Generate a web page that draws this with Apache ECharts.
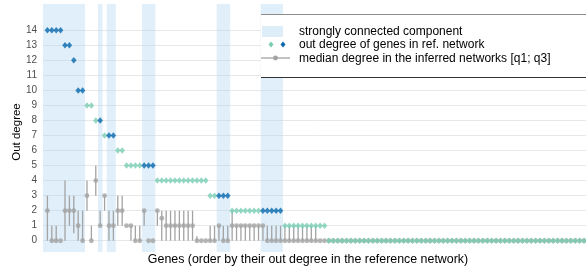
<!DOCTYPE html>
<html>
<head>
<meta charset="utf-8">
<script src="https://cdn.jsdelivr.net/npm/echarts@6/dist/echarts.min.js"></script>
<style>
  html, body { margin: 0; padding: 0; background: #fff; }
  #chart { width: 586px; height: 267px; }
</style>
</head>
<body>
<div id="chart"></div>
<script>
// out degree of each gene in the reference network (genes sorted by it)
const outDegree = [
  14, 14, 14, 14, 13, 13, 12, 10, 10, 9, 9, 8, 8, 7, 7, 7, 6, 6,
  5, 5, 5, 5, 5, 5, 5,
  4, 4, 4, 4, 4, 4, 4, 4, 4, 4, 4, 4,
  3, 3, 3, 3, 3,
  2, 2, 2, 2, 2, 2, 2, 2, 2, 2, 2, 2,
  1, 1, 1, 1, 1, 1, 1, 1, 1, 1,
  0, 0, 0, 0, 0, 0, 0, 0, 0, 0, 0, 0, 0, 0, 0, 0, 0, 0, 0, 0,
  0, 0, 0, 0, 0, 0, 0, 0, 0, 0, 0, 0, 0, 0, 0, 0, 0, 0, 0, 0,
  0, 0, 0, 0, 0, 0, 0, 0, 0, 0, 0, 0, 0, 0, 0, 0, 0, 0, 0
];
// strongly connected components: [first gene, last gene]
const sccGroups = [[0, 8], [12, 12], [14, 15], [22, 24], [39, 41], [49, 53]];
// median / quartiles of the degree in the inferred networks
const medianDeg = [
  2, 0, 0, 0, 2, 2, 2, 1, 0, 3, 0, 4, 1, 3, 1, 1, 2, 2,
  1, 1, 0, 0, 2, 0, 0,
  2, 1.5, 1, 1, 1, 1, 1, 1, 1, 0, 0, 0,
  0, 0, 1, 0, 0,
  1, 1, 1, 1, 1, 1, 1, 1, 0, 0, 0, 0,
  0, 0, 0, 0, 0, 0, 0, 0, 0, 0,
  0, 0, 0, 0, 0, 0, 0, 0, 0, 0, 0, 0, 0, 0, 0, 0, 0, 0, 0, 0,
  0, 0, 0, 0, 0, 0, 0, 0, 0, 0, 0, 0, 0, 0, 0, 0, 0, 0, 0, 0,
  0, 0, 0, 0, 0, 0, 0, 0, 0, 0, 0, 0, 0, 0, 0, 0, 0, 0, 0
];
const q1Deg = [
  0, 0, 0, 0, 0, 1, 0.5, 0, 0, 2, 0, 3, 1, 2, 0, 0, 1, 1,
  1, 0, 0, 0, 1, 0, 0,
  1, 0, 0, 0, 0, 0, 0, 0, 0, 0, 0, 0,
  0, 0, 0, 0, 0,
  0, 0, 0, 0, 0, 0, 0, 0, 0, 0, 0, 0,
  0, 0, 0, 0, 0, 0, 0, 0, 0, 0,
  0, 0, 0, 0, 0, 0, 0, 0, 0, 0, 0, 0, 0, 0, 0, 0, 0, 0, 0, 0,
  0, 0, 0, 0, 0, 0, 0, 0, 0, 0, 0, 0, 0, 0, 0, 0, 0, 0, 0, 0,
  0, 0, 0, 0, 0, 0, 0, 0, 0, 0, 0, 0, 0, 0, 0, 0, 0, 0, 0
];
const q3Deg = [
  3, 1, 1, 0, 4, 3, 3, 2, 2, 4, 1, 5, 2, 3, 2, 2, 3, 3,
  1, 1, 1, 1, 2, 0, 0,
  2, 2, 2, 2, 2, 2, 2, 2, 2, 0.3, 0, 0,
  1, 1, 1, 1, 1,
  2, 1, 1, 1, 1, 1, 1, 1, 1, 1, 1, 1,
  1, 1, 1, 1, 1, 1, 1, 1, 0, 0,
  0, 0, 0, 0, 0, 0, 0, 0, 0, 0, 0, 0, 0, 0, 0, 0, 0, 0, 0, 0,
  0, 0, 0, 0, 0, 0, 0, 0, 0, 0, 0, 0, 0, 0, 0, 0, 0, 0, 0, 0,
  0, 0, 0, 0, 0, 0, 0, 0, 0, 0, 0, 0, 0, 0, 0, 0, 0, 0, 0
];
const yTicks = [0, 1, 2, 3, 4, 5, 6, 7, 8, 9, 10, 11, 12, 13, 14];
const legendLabels = [
  "strongly connected component",
  "out degree of genes in ref. network",
  "median degree in the inferred networks [q1; q3]"
];

const LIGHT = "#79cdb4";
const DARK = "#0868ac";
const GREY = "#a3a3a3";
const BAND = "rgba(170, 212, 238, 0.36)";

const inScc = (i) => sccGroups.some(([a, b]) => i >= a && i <= b);
const lightPts = [];
const darkPts = [];
outDegree.forEach((d, i) => (inScc(i) ? darkPts : lightPts).push([i, d]));
const medianPts = medianDeg.map((m, i) => [i, m]);
const iqrData = q1Deg.map((q, i) => [i, q, q3Deg[i]]);

const chart = echarts.init(document.getElementById("chart"));
const font = "Liberation Sans, Arial, sans-serif";

chart.setOption({
  animation: false,
  backgroundColor: "#fff",
  grid: { left: 43, right: 0, top: 4, bottom: 15 },
  xAxis: {
    type: "value",
    min: -1,
    max: 122.45,
    axisLine: { show: false },
    axisTick: { show: false },
    axisLabel: { show: false },
    splitLine: { show: false }
  },
  yAxis: {
    type: "value",
    min: -0.75,
    max: 15.75,
    axisLine: { show: false },
    axisTick: { show: false, customValues: yTicks },
    axisLabel: {
      customValues: yTicks,
      color: "#4d4d4d",
      fontSize: 10,
      fontFamily: font,
      margin: 6
    },
    splitLine: { show: true, lineStyle: { color: "#e8e8e8", width: 1 } }
  },
  graphic: [
    {
      type: "text",
      x: 17, y: 132,
      rotation: Math.PI / 2,
      style: {
        text: "Out degree", fontSize: 11.5, fontFamily: font, fill: "#000",
        align: "center", verticalAlign: "middle"
      }
    },
    {
      type: "text",
      x: 308, y: 260,
      style: {
        text: "Genes (order by their out degree in the reference network)",
        fontSize: 12.4, fontFamily: font, fill: "#000",
        align: "center", verticalAlign: "middle"
      }
    },
    // legend box
    {
      type: "rect", shape: { x: 261, y: 14, width: 330, height: 63.5 },
      style: { fill: "#fff" }, z: 100
    },
    { type: "line", shape: { x1: 261, y1: 14.5, x2: 586, y2: 14.5 }, style: { stroke: "#8c8c8c", lineWidth: 1 }, z: 101 },
    { type: "line", shape: { x1: 261, y1: 77.5, x2: 586, y2: 77.5 }, style: { stroke: "#333", lineWidth: 1 }, z: 101 },
    { type: "rect", shape: { x: 262, y: 26, width: 21, height: 11 }, style: { fill: "#deeef8" }, z: 101 },
    {
      type: "polygon", z: 101,
      shape: { points: [[271, 41.5], [273.5, 44.5], [271, 47.5], [268.5, 44.5]] },
      style: { fill: LIGHT }
    },
    {
      type: "polygon", z: 101,
      shape: { points: [[283, 41.5], [285.5, 44.5], [283, 47.5], [280.5, 44.5]] },
      style: { fill: DARK }
    },
    { type: "line", shape: { x1: 261, y1: 58, x2: 290, y2: 58 }, style: { stroke: GREY, lineWidth: 1.3 }, z: 101 },
    { type: "circle", shape: { cx: 275.5, cy: 58, r: 2.4 }, style: { fill: GREY }, z: 101 },
    {
      type: "text", x: 299, y: 31.5, z: 101,
      style: { text: legendLabels[0], fontSize: 12, fontFamily: font, fill: "#000", verticalAlign: "middle" }
    },
    {
      type: "text", x: 299, y: 45, z: 101,
      style: { text: legendLabels[1], fontSize: 12, fontFamily: font, fill: "#000", verticalAlign: "middle" }
    },
    {
      type: "text", x: 299, y: 58.5, z: 101,
      style: { text: legendLabels[2], fontSize: 12, fontFamily: font, fill: "#000", verticalAlign: "middle" }
    }
  ],
  series: [
    {
      name: "scc",
      type: "line",
      data: [],
      z: 1,
      silent: true,
      markArea: {
        silent: true,
        itemStyle: { color: BAND },
        data: sccGroups.map(([a, b]) => [{ xAxis: a === 0 ? -1 : a - 0.5 }, { xAxis: b + 0.55 }])
      }
    },
    {
      name: "iqr",
      type: "custom",
      z: 2,
      data: iqrData,
      renderItem: (params, api) => {
        const lo = api.coord([api.value(0), api.value(1)]);
        const hi = api.coord([api.value(0), api.value(2)]);
        if (Math.abs(lo[1] - hi[1]) < 0.5) return null;
        return {
          type: "line",
          shape: { x1: lo[0], y1: lo[1], x2: hi[0], y2: hi[1] },
          style: { stroke: GREY, lineWidth: 1.3 }
        };
      }
    },
    {
      name: "median",
      type: "scatter",
      z: 3,
      data: medianPts,
      symbol: "circle",
      symbolSize: 4.8,
      itemStyle: { color: GREY }
    },
    {
      name: "ref-light",
      type: "scatter",
      z: 4,
      data: lightPts,
      symbol: "diamond",
      symbolSize: [5.5, 6.5],
      itemStyle: { color: LIGHT }
    },
    {
      name: "ref-dark",
      type: "scatter",
      z: 4,
      data: darkPts,
      symbol: "diamond",
      symbolSize: [5.5, 6.5],
      itemStyle: { color: DARK }
    }
  ]
});
</script>
</body>
</html>
